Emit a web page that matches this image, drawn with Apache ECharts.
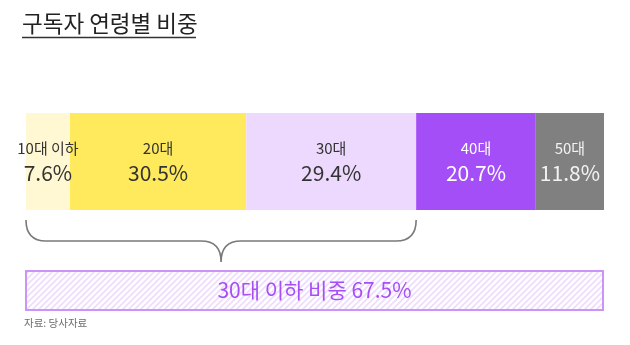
<!DOCTYPE html>
<html>
<head>
<meta charset="utf-8">
<script src="https://cdn.jsdelivr.net/npm/echarts@6/dist/echarts.min.js"></script>
<style>
html,body{margin:0;padding:0;background:#fff;}
#c{width:630px;height:345px;}
</style>
</head>
<body>
<div id="c"></div>
<script>
var titleText = '구독자 연령별 비중';
var sourceText = '자료: 당사자료';
var categories = ['10대 이하', '20대', '30대', '40대', '50대'];
var shares = [7.6, 30.5, 29.4, 20.7, 11.8];
var segColors = ['#fff8d2', '#ffe95c', '#ecd9fd', '#a34ef6', '#808080'];
var labelColors = ['#333333', '#333333', '#333333', '#ffffff', '#f2f2f2'];
var groupShare = 67.5;
var groupLabel = '30대 이하 비중';

var FONT = '"Noto Sans CJK KR", "Noto Sans", sans-serif';

// hatch pattern
var pc = document.createElement('canvas');
pc.width = 6; pc.height = 6;
var g = pc.getContext('2d');
g.fillStyle = '#ffffff'; g.fillRect(0,0,6,6);
g.strokeStyle = '#eddcfd'; g.lineWidth = 1.6;
g.beginPath();
g.moveTo(-1,7); g.lineTo(7,-1);
g.moveTo(-4,4); g.lineTo(4,-4);
g.moveTo(2,10); g.lineTo(10,2);
g.stroke();

var chart = echarts.init(document.getElementById('c'), null, {renderer:'canvas'});

var series = categories.map(function(name, i){
  return {
    type: 'bar', name: name, stack: 'total', xAxisIndex: 0, yAxisIndex: 0,
    barWidth: '100%', data: [shares[i]],
    itemStyle: { color: segColors[i] },
    silent: true,
    label: {
      show: true, position: 'inside',
      formatter: function(){ return '{a|' + name + '}\n{b|' + shares[i].toFixed(1) + '%}'; },
      rich: {
        a: { fontFamily: FONT, fontSize: 15, color: labelColors[i], lineHeight: 24 },
        b: { fontFamily: FONT, fontSize: 21, color: labelColors[i], lineHeight: 26 }
      }
    }
  };
});

series.push({
  type: 'custom', xAxisIndex: 0, yAxisIndex: 0, silent: true,
  data: [[0, groupShare, 0]],
  renderItem: function(params, api){
    var p0 = api.coord([api.value(0), api.value(2)]);
    var p1 = api.coord([api.value(1), api.value(2)]);
    var h = api.size([0, 1])[1];
    var bottom = p0[1] + h / 2;
    var x0 = p0[0], x1 = p1[0], mid = (x0 + x1) / 2;
    var yt = bottom + 10, yh = bottom + 31, ytip = bottom + 52, r = 20;
    var d = 'M' + x0 + ' ' + yt +
      ' Q' + x0 + ' ' + yh + ' ' + (x0 + r) + ' ' + yh +
      ' L' + (mid - r) + ' ' + yh +
      ' Q' + mid + ' ' + yh + ' ' + mid + ' ' + ytip +
      ' Q' + mid + ' ' + yh + ' ' + (mid + r) + ' ' + yh +
      ' L' + (x1 - r) + ' ' + yh +
      ' Q' + x1 + ' ' + yh + ' ' + x1 + ' ' + yt;
    return { type: 'path', shape: { pathData: d }, style: { fill: null, stroke: '#7a7a7a', lineWidth: 1.6 } };
  }
});

var total = shares.reduce(function(a,b){return a+b;}, 0);
series.push({
  type: 'bar', xAxisIndex: 1, yAxisIndex: 1, barWidth: '100%', silent: true,
  data: [total],
  itemStyle: { color: { image: pc, repeat: 'repeat' }, borderColor: '#cb94f8', borderWidth: 2 },
  label: {
    show: true, position: 'inside',
    formatter: groupLabel + ' ' + groupShare.toFixed(1) + '%',
    fontFamily: FONT, fontSize: 21, color: '#a64ff5'
  }
});

chart.setOption({
  animation: false,
  grid: [
    { left: 26, width: 578, top: 113, height: 97 },
    { left: 25, width: 579, top: 270, height: 41 }
  ],
  xAxis: [
    { type: 'value', gridIndex: 0, min: 0, max: 100, show: false },
    { type: 'value', gridIndex: 1, min: 0, max: 100, show: false }
  ],
  yAxis: [
    { type: 'category', gridIndex: 0, data: ['구독자'], show: false },
    { type: 'category', gridIndex: 1, data: ['합계'], show: false }
  ],
  graphic: [
    { type: 'text', left: 22, top: 12, style: { text: titleText, font: '22.5px ' + FONT, fill: '#222' } },
    { type: 'line', shape: { x1: 22, y1: 37.5, x2: 196, y2: 37.5 }, style: { stroke: '#333', lineWidth: 1.5 } },
    { type: 'text', left: 24, top: 318, style: { text: sourceText, font: '10.5px ' + FONT, fill: '#6e6e6e' } }
  ],
  series: series
});
</script>
</body>
</html>
